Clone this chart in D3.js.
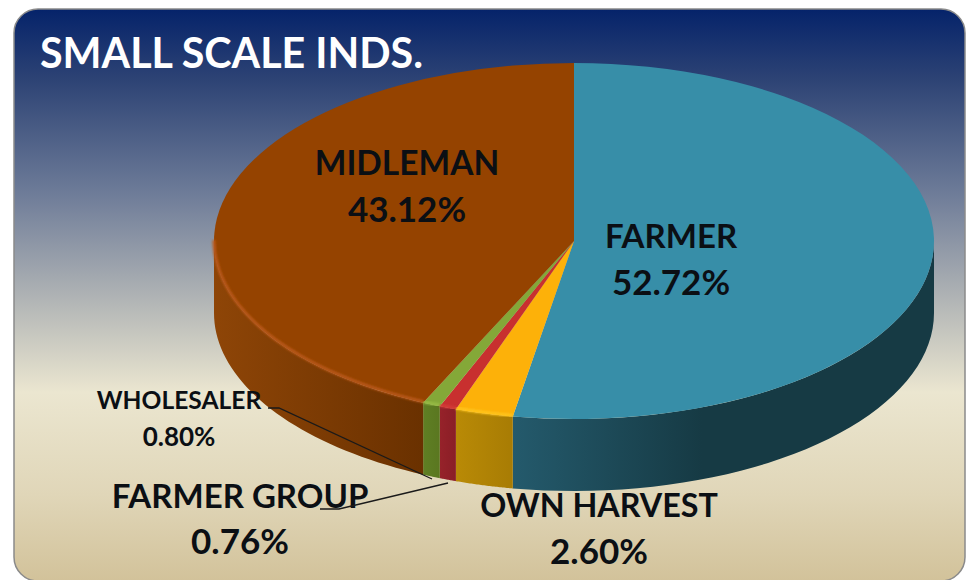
<!DOCTYPE html>
<html><head><meta charset="utf-8">
<script src="https://cdn.jsdelivr.net/npm/d3@7/dist/d3.min.js"></script>
<style>html,body{margin:0;padding:0;background:#fff}svg{display:block}text{font-family:Lato,"Open Sans",sans-serif;font-weight:700;fill:#0b0f14;text-anchor:middle}</style>
</head><body><div id="c"></div>
<script>
const title = "SMALL SCALE INDS.";
const categories = ["FARMER","OWN HARVEST","FARMER GROUP","WHOLESALER","MIDLEMAN"];
const values = [52.72,2.60,0.76,0.80,43.12];
const topColors = ["#378ea8","#fdb109","#c8302f","#84a838","#954300"];
const sideLight = ["#245a6c","#b98a06","#96222a","#5f7f24","#8e4507"];
const sideDark = ["#163a44","#a87c04","#8a1e26","#5a7720","#6a3100"];
const rimColors = ["#378ea8","#ffc51e","#d43a38","#97bb45","#b9591a"];

const W=969,H=580,cx=574,cy=241,rx=360,ry=178,depth=72;
const svg=d3.select("#c").append("svg").attr("width",W).attr("height",H);
const defs=svg.append("defs");
const bg=defs.append("linearGradient").attr("id","bg").attr("x1",0).attr("x2",0).attr("y1",0).attr("y2",1);
[[0,"#05236a"],[.12,"#2c4274"],[.32,"#6d7b98"],[.5,"#aeb2b4"],[.67,"#ebe6d0"],[.85,"#e0d6b8"],[1,"#d2c29a"]]
 .forEach(d=>bg.append("stop").attr("offset",d[0]).attr("stop-color",d[1]));
defs.append("filter").attr("id","soft").append("feGaussianBlur").attr("stdDeviation",0.8);
svg.append("rect").attr("x",14).attr("y",9).attr("width",951).attr("height",572).attr("rx",24)
 .attr("fill","url(#bg)").attr("stroke","#8a8a8a").attr("stroke-width",1.5);

const pie=d3.pie().sort(null)(values);
const px=a=>cx+rx*Math.sin(a), py=a=>cy-ry*Math.cos(a);
const arcPts=(a0,a1,dy)=>d3.range(0,41).map(i=>{const a=a0+(a1-a0)*i/40;return [px(a),py(a)+dy];});
const line=d3.line();
const lo=Math.PI/2, hi=3*Math.PI/2;

categories.forEach((c,i)=>{
  const a0=Math.max(pie[i].startAngle,lo), a1=Math.min(pie[i].endAngle,hi);
  if(a1<=a0) return;
  const g=defs.append("linearGradient").attr("id","s"+i).attr("gradientUnits","userSpaceOnUse")
    .attr("x1",px(a1)).attr("x2",px(a0)).attr("y1",0).attr("y2",0);
  g.append("stop").attr("offset",0).attr("stop-color",sideLight[i]);
  g.append("stop").attr("offset",i==0?0.45:1).attr("stop-color",sideDark[i]);
  const pts=arcPts(a0,a1,0).concat(arcPts(a1,a0,depth));
  svg.append("path").attr("d",line(pts)+"Z").attr("fill",`url(#s${i})`);
});

const arc=d3.arc().innerRadius(0).outerRadius(rx);
const topG=svg.append("g").attr("transform",`translate(${cx},${cy}) scale(1,${ry/rx})`);
topG.selectAll("path").data(pie).join("path").attr("d",arc).attr("fill",(d,i)=>topColors[i]);
categories.forEach((c,i)=>{
  const a0=Math.max(pie[i].startAngle,lo), a1=Math.min(pie[i].endAngle,hi);
  if(a1<=a0||i==0) return;
  svg.append("path").attr("d",line(arcPts(a0,a1,-1))).attr("fill","none").attr("stroke",rimColors[i])
    .attr("stroke-width",3).attr("filter","url(#soft)");
});

const labels=[
 {x:671,y:248,s:33,p:35,l2y:295},
 {x:599,y:517,s:32.3,p:35,l2y:564},
 {x:240,y:508,s:33,p:35,l2y:554},
 {x:179,y:409,s:24.6,p:26,l2y:446},
 {x:407,y:175,s:33.5,p:35,l2y:222}];
labels.forEach((l,i)=>{
  svg.append("text").attr("x",l.x).attr("y",l.y).attr("font-size",l.s).text(categories[i]);
  svg.append("text").attr("x",l.x).attr("y",l.l2y).attr("font-size",l.p).text(values[i].toFixed(2)+"%");
});
svg.append("text").attr("x",40).attr("y",68).attr("font-size",42).attr("textLength",383).attr("lengthAdjust","spacingAndGlyphs")
  .style("fill","#fff").style("text-anchor","start").text(title);
const leader=[[[268,408],[279,408],[432,479]],[[320,509],[339,509],[448,483]]];
leader.forEach(p=>svg.append("path").attr("d",line(p)).attr("fill","none").attr("stroke","#1a1a1a").attr("stroke-width",1.3));
</script></body></html>
